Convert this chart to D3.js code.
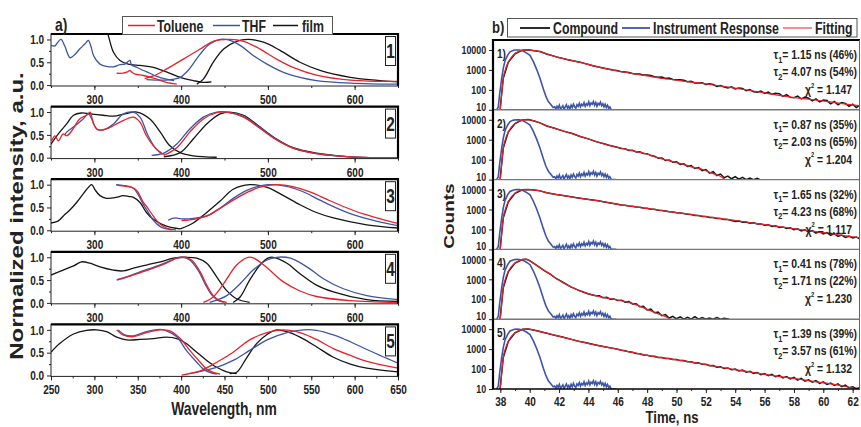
<!DOCTYPE html>
<html>
<head>
<meta charset="utf-8">
<script src="https://cdn.jsdelivr.net/npm/d3@7"></script>
<style>
  body { margin: 0; background: #fff; }
  svg { display: block; }
</style>
</head>
<body>
<svg id="chart" width="861" height="427"></svg>
<script>
// ---- panel a) normalized spectra, one entry per compound (rows 1..5), [nm, intensity]
const tolueneAbs = [
  [[325.7,0.26],[333,0.26],[338,0.29],[341,0.32],[344,0.27],[347,0.24],[356.5,0.21],[365,0.17],[372,0.13],[383,0.06],[395,0.02]],
  [[250.8,0.37],[254.6,0.48],[258.5,0.37],[264,0.52],[268,0.48],[274,0.59],[283,0.85],[291,0.93],[295,1.0],[299,0.74],[304.6,0.61],[314,0.63],[329.5,0.78],[345,0.89],[352.6,0.78],[360,0.48],[368,0.26],[376,0.11],[381,0.07]],
  [[325.7,0.99],[337,0.96],[343,0.94],[349,0.87],[356.5,0.61],[360,0.53],[368,0.31],[376,0.13],[383,0.05],[394,0.01]],
  [[325.7,0.5],[337,0.56],[352.6,0.66],[368,0.76],[383,0.87],[395,0.98],[404.5,1.0],[412,0.94],[422,0.68],[429.5,0.39],[437,0.16],[445,0.05],[452.6,0.01]],
  [[325.7,1.0],[333,0.89],[345,0.85],[360,0.94],[376,1.0],[387,0.98],[399,0.81],[410,0.55],[422,0.29],[429.5,0.14],[437,0.07],[445,0.03]]
];
const tolueneEm = [
  [[358,0.14],[368,0.2],[383,0.35],[402.6,0.57],[422,0.79],[437,0.96],[456,1.0],[472,0.96],[491,0.79],[510,0.57],[529,0.39],[556,0.22],[595,0.11],[650,0.08]],
  [[380,0.05],[395,0.22],[410,0.56],[425.6,0.85],[441,0.99],[452.6,1.0],[472,0.89],[491,0.64],[510,0.39],[529,0.21],[556,0.09],[595,0.02],[650,0.0]],
  [[400.6,0.21],[414,0.24],[429.5,0.31],[445,0.48],[460,0.66],[475,0.82],[490,0.94],[510,1.0],[530,0.95],[550,0.83],[570,0.66],[590,0.5],[610,0.36],[630,0.25],[650,0.15]],
  [[425.6,0.01],[437,0.13],[449,0.42],[464,0.83],[477,1.0],[484,0.98],[499,0.77],[518,0.46],[537,0.26],[556,0.14],[595,0.05],[650,0.01]],
  [[400.6,0.01],[422,0.1],[441,0.29],[460,0.51],[479,0.78],[499,0.94],[518,1.0],[537,0.94],[556,0.79],[575.5,0.59],[595,0.44],[614,0.31],[650,0.16]]
];
const thfAbs = [
  [[250,0.87],[254.6,0.86],[257,0.92],[261.5,1.0],[266,0.85],[272,0.6],[278,0.68],[283,0.79],[289,0.9],[293,0.98],[296,0.85],[299,0.65],[306.5,0.46],[314,0.41],[322,0.4],[329.5,0.45],[335,0.46],[339,0.52],[341,0.54],[343,0.44],[350,0.38],[356.5,0.32],[364,0.26],[372,0.19],[383,0.13],[392,0.1]],
  [[266,0.5],[268,0.56],[277.7,0.7],[287,0.85],[293,0.96],[297,0.85],[302.6,0.63],[310,0.61],[322,0.74],[333.4,0.96],[345,1.0],[352.6,0.89],[362,0.48],[370,0.22],[377.6,0.1]],
  [[325,1.0],[334,0.98],[340,0.96],[345,0.92],[350,0.8],[356,0.58],[362,0.4],[368,0.22],[376,0.08],[383,0.03],[390,0.01]],
  [[326,0.51],[337,0.57],[352.6,0.68],[368,0.78],[383,0.89],[395,0.98],[402,1.0],[410,0.94],[420,0.7],[428,0.4],[435,0.18],[442,0.06],[450,0.01]],
  [[327.6,1.0],[335,0.89],[345,0.87],[360,0.96],[376,1.01],[383,0.98],[395,0.85],[406,0.55],[418,0.29],[425.6,0.14],[433,0.07],[441,0.03]]
];
const thfEm = [
  [[360,0.12],[370,0.11],[383,0.11],[392,0.13],[399,0.17],[408,0.32],[415,0.5],[422,0.68],[433,0.9],[445,1.0],[452,1.0],[468,0.87],[483,0.65],[499,0.46],[518,0.28],[537,0.17],[556,0.1],[595,0.045],[650,0.02]],
  [[366,0.05],[380,0.1],[395,0.3],[410,0.63],[425.6,0.89],[441,1.0],[452.6,1.0],[472,0.9],[491,0.66],[510,0.4],[529,0.21],[556,0.09],[595,0.02],[650,0.0]],
  [[385,0.22],[390,0.26],[394,0.27],[400,0.25],[414,0.26],[430,0.32],[445,0.49],[460,0.7],[475,0.87],[490,0.97],[500,1.0],[520,0.97],[540,0.85],[560,0.66],[580,0.48],[600,0.33],[625,0.2],[650,0.1]],
  [[433,0.01],[452.6,0.16],[468,0.42],[483,0.72],[499,0.94],[510,1.0],[526,0.98],[545,0.79],[564,0.53],[587,0.31],[614,0.16],[650,0.07]],
  [[410,0.04],[441,0.18],[460,0.33],[479,0.55],[499,0.78],[522,0.94],[541,1.0],[556,0.99],[575.5,0.89],[595,0.74],[614,0.57],[650,0.27]]
];
const filmAbs = [
  [[314,1.2],[316,1.09],[322,0.72],[329.5,0.54],[339,0.46],[352.6,0.43],[368,0.39],[383,0.29],[399,0.17],[414,0.1],[425.6,0.06],[435,0.07]],
  [[250,0.3],[260,0.56],[268,0.74],[276,0.93],[285,0.98],[295,0.96],[310,0.93],[322,0.91],[335,0.96],[349,1.0],[364,0.85],[376,0.56],[387,0.26],[399,0.11],[414,0.04],[441,0.01]],
  [[250,0.16],[258,0.2],[265,0.33],[272,0.45],[280,0.62],[288,0.82],[294,0.96],[297,1.0],[301,0.88],[306.5,0.76],[314,0.7],[325,0.72],[333,0.76],[340,0.74],[345,0.72],[352.6,0.61],[360,0.39],[368,0.24],[383,0.09],[399,0.03]],
  [[250,0.61],[264,0.72],[276,0.81],[285,0.9],[295,0.87],[306.5,0.79],[322,0.72],[333,0.7],[345,0.76],[360,0.83],[376,0.9],[391,0.98],[406,1.0],[418,0.98],[429.5,0.87],[441,0.57],[452.6,0.27],[464,0.09],[479,0.01]],
  [[250,0.51],[260,0.7],[276,0.91],[291,0.99],[302.6,1.0],[314,0.96],[325.7,0.84],[337,0.78],[352.6,0.79],[368,0.81],[383,0.84],[395,0.81],[406,0.7],[418,0.51],[429.5,0.33],[441,0.18],[452.6,0.08],[464,0.04]]
];
const filmEm = [
  [[418,0.02],[425.6,0.13],[437,0.5],[449,0.79],[464,0.96],[477.5,1.0],[495,0.94],[514,0.76],[537,0.5],[560,0.32],[595,0.17],[650,0.07]],
  [[380,0.02],[399,0.11],[414,0.41],[429.5,0.74],[445,0.96],[456,1.0],[472,0.93],[491,0.67],[510,0.41],[529,0.22],[556,0.1],[595,0.02],[650,0.0]],
  [[399,0.03],[414,0.16],[429.5,0.39],[445,0.64],[460,0.9],[479,1.0],[499,0.94],[518,0.76],[537,0.56],[556,0.39],[575.5,0.27],[614,0.12],[650,0.05]],
  [[460,0.01],[468,0.13],[479,0.5],[491,0.83],[500,0.98],[506,1.0],[522,0.87],[537,0.64],[556,0.39],[575.5,0.24],[614,0.07],[650,0.03]],
  [[456,0.04],[464,0.07],[475,0.37],[487,0.7],[499,0.9],[510,1.0],[522,0.96],[537,0.84],[556,0.63],[575.5,0.4],[595,0.25],[614,0.16],[650,0.08]]
];
const rowNumbers = ['1', '2', '3', '4', '5'];
const wavelengthMajor = [300, 400, 500, 600];
const wavelengthMajorLast = [250, 300, 350, 400, 450, 500, 550, 600, 650];

// ---- panel b) fluorescence decays, [ns, counts]
const instrumentResponse = [[37.75,10],[37.86,14],[37.95,60],[38.09,370],[38.2,1200],[38.32,2900],[38.5,5500],[38.66,8100],[38.9,9600],[39.1,10000],[39.3,9900],[39.55,8900],[39.8,7000],[40.02,5400],[40.25,2600],[40.48,1040],[40.7,380],[40.93,110],[41.1,48],[41.27,26],[41.45,18],[41.6,13],
  [41.70,14],[41.78,11],[41.86,15],[41.94,12],[42.02,17],[42.10,11],[42.18,13],[42.26,16],[42.34,10.5],[42.42,14],[42.50,18],[42.58,12],[42.66,15],[42.74,11],[42.82,17],[42.90,13],[42.98,19],[43.06,14],[43.14,12],[43.22,18],[43.30,15],[43.38,21],[43.46,14],[43.54,19],[43.62,16],[43.70,23],[43.78,15],[43.86,20],[43.94,17],[44.02,25],[44.10,16],[44.18,22],[44.26,19],[44.34,26],[44.42,17],[44.50,23],[44.58,15],[44.66,21],[44.74,18],[44.82,24],[44.90,16],[44.98,20],[45.06,14],[45.14,19],[45.22,13],[45.30,17],[45.38,12],[45.46,14],[45.54,10.5],[45.6,10],[45.9,10]];
const compound = [
  [[37.98,10],[38.2,380],[38.54,2400],[39.0,6500],[39.5,9800],[39.9,10200],[40.3,9200],[40.7,8300],[41.2,6100],[41.84,4500],[42.6,3250],[43.43,2450],[44.3,1600],[45.24,1150],[45.7,980],
    [46.0,905],[46.25,800],[46.5,795],[46.75,745],[47.0,660],[47.25,618],[47.5,630],[47.75,548],[48.0,560],[48.25,520],[48.5,452],[48.75,430],[49.0,440],[49.25,372],[49.5,392],[49.75,330],[50.0,318],[50.25,325],[50.5,300],[50.75,255],[51.0,270],[51.25,222],[51.5,218],[51.75,228],[52.0,186],[52.25,200],[52.5,184],[52.75,150],[53.0,164],[53.25,138],[53.5,126],[53.75,142],[54.0,112],[54.25,124],[54.5,118],[54.75,90],[55.0,104],[55.25,80],[55.5,77],[55.75,88],[56.0,66],[56.25,78],[56.5,60],[56.75,68],[57.0,64],[57.25,47],[57.5,57],[57.75,42],[58.0,40],[58.25,49],[58.5,35],[58.75,43],[59.0,38],[59.25,28],[59.5,35],[59.75,25],[60.0,31],[60.25,29],[60.5,20],[60.75,26],[61.0,18],[61.25,23],[61.5,21],[61.75,15],[62.0,19],[62.25,13],[62.5,17]],
  [[37.98,10],[38.2,380],[38.54,2400],[39.0,6500],[39.5,9800],[39.9,10200],[40.3,8700],[40.7,7000],[41.16,4900],[41.7,3750],[42.29,2700],[42.9,2050],[43.43,1450],[44.0,1100],[44.56,780],[45.0,640],[45.4,530],[45.9,430],[46.25,365],
    [46.5,350],[46.75,290],[47.0,300],[47.25,245],[47.5,250],[47.75,205],[48.0,200],[48.25,160],[48.5,150],[48.75,118],[49.0,122],[49.25,92],[49.5,96],[49.75,74],[50.0,78],[50.25,58],[50.5,62],[50.75,46],[51.0,50],[51.25,36],[51.5,40],[51.75,28],[52.0,32],[52.25,21],[52.5,25],[52.75,16],[53.0,19],[53.25,12.5],[53.5,15],[53.75,11],[54.0,14],[54.25,10.5],[54.5,13],[54.75,10],[55.0,12],[55.25,10],[55.5,11.5],[55.7,10]],
  [[37.98,10],[38.2,380],[38.54,2400],[39.0,6500],[39.5,9800],[39.9,10200],[40.3,9400],[40.7,8600],[41.16,7000],[41.8,5700],[42.5,4700],[43.2,3900],[43.9,3300],[44.56,2800],[45.3,2250],
    [46.0,1850],[46.25,1700],[46.5,1640],[46.75,1500],[47.0,1450],[47.25,1330],[47.5,1290],[47.75,1180],[48.0,1150],[48.25,1040],[48.5,1020],[48.75,930],[49.0,900],[49.25,850],[49.5,770],[49.75,760],[50.0,690],[50.25,672],[50.5,630],[50.75,575],[51.0,565],[51.25,505],[51.5,500],[51.75,450],[52.0,445],[52.25,400],[52.5,398],[52.75,350],[53.0,352],[53.25,312],[53.5,315],[53.75,278],[54.0,250],[54.25,262],[54.5,230],[54.75,236],[55.0,205],[55.25,218],[55.5,188],[55.75,190],[56.0,162],[56.25,172],[56.5,140],[56.75,154],[57.0,126],[57.25,134],[57.5,112],[57.75,120],[58.0,98],[58.25,108],[58.5,84],[58.75,96],[59.0,76],[59.25,88],[59.5,66],[59.75,78],[60.0,60],[60.25,70],[60.5,51],[60.75,62],[61.0,45],[61.25,52],[61.5,40],[61.75,46],[62.0,37],[62.25,42],[62.5,33]],
  [[37.98,10],[38.2,380],[38.54,2400],[39.0,6500],[39.5,9800],[39.8,10100],[40.02,8400],[40.35,5800],[40.7,3900],[41.05,2600],[41.4,1800],[41.8,1100],[42.29,690],[42.8,420],[43.43,265],[44.0,185],[44.5,152],
    [44.75,150],[45.0,118],[45.25,124],[45.5,100],[45.75,104],[46.0,86],[46.25,90],[46.5,72],[46.75,76],[47.0,58],[47.25,60],[47.5,42],[47.75,44],[48.0,29],[48.25,32],[48.5,21],[48.75,23],[49.0,15],[49.25,17],[49.5,11.5],[49.75,14],[50.0,10.5],[50.25,13],[50.5,10],[50.75,12.5],[51.0,10],[51.25,13.5],[51.5,10],[51.75,12],[52.0,10],[52.25,11.5],[52.5,10],[52.75,12],[53.0,10],[53.25,11],[53.6,10]],
  [[37.98,10],[38.2,380],[38.54,2400],[39.0,6500],[39.5,9800],[39.9,10200],[40.5,8300],[41.16,6300],[41.7,4900],[42.3,3950],[42.9,3000],[43.43,2380],[44.0,1950],[44.5,1620],[45.1,1300],[45.7,1090],
    [46.0,990],[46.25,880],[46.5,835],[46.75,730],[47.0,690],[47.25,605],[47.5,585],[47.75,512],[48.0,498],[48.25,440],[48.5,436],[48.75,385],[49.0,378],[49.25,340],[49.5,338],[49.75,300],[50.0,300],[50.25,265],[50.5,266],[50.75,232],[51.0,234],[51.25,200],[51.5,205],[51.75,172],[52.0,176],[52.25,146],[52.5,150],[52.75,124],[53.0,131],[53.25,106],[53.5,114],[53.75,92],[54.0,99],[54.25,80],[54.5,88],[54.75,70],[55.0,77],[55.25,61],[55.5,67],[55.75,52],[56.0,60],[56.25,47],[56.5,54],[56.75,41],[57.0,48],[57.25,36],[57.5,42],[57.75,32],[58.0,38],[58.25,28],[58.5,34],[58.75,25],[59.0,29],[59.25,22],[59.5,26],[59.75,19],[60.0,23],[60.25,17],[60.5,20],[60.75,15],[61.0,18],[61.25,13],[61.5,15.5],[61.75,11.5],[62.0,13],[62.25,10.5],[62.5,11.5]]
];
const fitting = [
  [[38.0,10],[38.2,370],[38.4,1400],[38.54,2400],[38.75,4300],[39.0,6600],[39.3,8700],[39.6,9800],[39.9,10000],[40.3,9300],[40.7,8200],[41.2,6200],[41.84,4400],[42.6,3300],[43.43,2400],[44.3,1650],[45.24,1130],[46.0,880],[46.83,690],[48.0,500],[49.1,370],[50.2,290],[51.37,230],[52.5,175],[53.64,133],[54.8,98],[55.9,72],[57.0,53],[58.19,40],[59.3,32],[60.46,25],[61.4,20],[62.5,16]],
  [[38.0,10],[38.2,370],[38.4,1400],[38.54,2400],[38.75,4300],[39.0,6600],[39.3,8700],[39.6,9800],[39.9,10000],[40.3,8800],[40.7,6900],[41.16,5000],[41.7,3700],[42.29,2750],[42.9,2000],[43.43,1480],[44.0,1080],[44.56,800],[45.4,520],[46.38,355],[47.2,260],[47.97,193],[48.5,140],[49.1,105],[49.8,78],[50.46,58],[51.1,42],[51.83,31],[52.4,21],[52.96,15],[53.3,10]],
  [[38.0,10],[38.2,370],[38.4,1400],[38.54,2400],[38.75,4300],[39.0,6600],[39.3,8700],[39.6,9800],[39.9,10000],[40.3,9400],[40.7,8600],[41.16,7000],[41.8,5700],[42.5,4700],[43.2,3900],[43.9,3300],[44.56,2800],[45.3,2250],[46.0,1820],[46.83,1470],[47.6,1230],[48.4,1020],[49.1,870],[49.9,720],[50.7,600],[51.4,510],[52.2,420],[52.9,360],[53.6,310],[54.4,255],[55.1,215],[55.9,180],[56.6,152],[57.4,126],[58.2,105],[59.0,87],[59.8,72],[60.5,62],[61.3,51],[62.0,43],[62.5,38]],
  [[38.0,10],[38.2,370],[38.4,1400],[38.54,2400],[38.75,4300],[39.0,6600],[39.3,8700],[39.6,9900],[39.8,10000],[40.02,8300],[40.35,5800],[40.7,3800],[41.05,2600],[41.4,1780],[41.8,1100],[42.29,680],[42.8,420],[43.43,260],[44.0,190],[44.56,147],[45.1,120],[45.7,100],[46.3,82],[46.83,68],[47.4,48],[47.97,32],[48.5,22],[49.1,15],[49.4,12],[49.6,10]],
  [[38.0,10],[38.2,370],[38.4,1400],[38.54,2400],[38.75,4300],[39.0,6600],[39.3,8700],[39.6,9800],[39.9,10000],[40.5,8200],[41.16,6300],[42.3,3900],[43.43,2360],[44.5,1600],[45.7,1080],[46.8,730],[47.97,490],[49.1,360],[50.24,275],[51.4,200],[52.5,142],[53.6,104],[54.78,76],[55.9,56],[57.05,42],[58.2,32],[59.32,24],[60.5,18],[61.6,13],[62.3,10]]
];
const decayLabels = ['1)', '2)', '3)', '4)', '5)'];
const tau1Text = ['= 1.15 ns (46%)', '= 0.87 ns (35%)', '= 1.65 ns (32%)', '= 0.41 ns (78%)', '= 1.39 ns (39%)'];
const tau2Text = ['= 4.07 ns (54%)', '= 2.03 ns (65%)', '= 4.23 ns (68%)', '= 1.71 ns (22%)', '= 3.57 ns (61%)'];
const chiText = ['= 1.147', '= 1.204', '= 1.117', '= 1.230', '= 1.132'];
const countTicks = [10, 100, 1000, 10000];
const timeMajor = d3.range(38, 63, 2);
const timeMinor = d3.range(38, 63, 1);

// ---- styling
const SX = 0.77; // the source figure is horizontally squeezed
const FONT = "'Liberation Sans', Arial, Helvetica, sans-serif";
const RED = '#e5232b';
const BLUE = '#3c55a6';
const BLACK = '#151515';
const INK = '#222';

const svg = d3.select('#chart');
svg.append('rect').attr('width', 861).attr('height', 427).attr('fill', '#fff');
const defs = svg.append('defs');

function label(parent, x, y, str, size, anchor) {
  return parent.append('text')
    .attr('transform', `translate(${x},${y}) scale(${SX},1)`)
    .attr('font-family', FONT)
    .attr('font-weight', 'bold')
    .attr('font-size', size)
    .attr('text-anchor', anchor || 'start')
    .attr('fill', INK)
    .text(str);
}

function styleAxis(g, size) {
  g.select('.domain').remove();
  g.selectAll('.tick line').attr('stroke', INK).attr('stroke-width', 1);
  g.selectAll('.tick text')
    .attr('font-family', FONT)
    .attr('font-weight', 'bold')
    .attr('font-size', size)
    .attr('fill', INK)
    .attr('transform', `scale(${SX},1)`);
}

// =================== panel a ===================
const aLeft = 51, aRight = 398, aTop = 34, aStep = 72.6, aH = 52;
const xA = d3.scaleLinear().domain([250, 650]).range([aLeft, aRight]);

rowNumbers.forEach((num, i) => {
  const top = aTop + i * aStep;
  const yA = d3.scaleLinear().domain([-0.02, 1.12]).range([top + aH, top]);
  const g = svg.append('g');

  defs.append('clipPath').attr('id', 'clipA' + i)
    .append('rect').attr('x', aLeft).attr('y', top).attr('width', aRight - aLeft).attr('height', aH);

  const line = d3.line()
    .x(d => xA(d[0]))
    .y(d => yA(d[1]))
    .curve(d3.curveCatmullRom.alpha(0.5));

  const plot = g.append('g').attr('clip-path', `url(#clipA${i})`);
  [[filmAbs, BLACK], [filmEm, BLACK], [thfAbs, BLUE], [thfEm, BLUE], [tolueneAbs, RED], [tolueneEm, RED]]
    .forEach(([series, color]) => {
      plot.append('path')
        .datum(series[i])
        .attr('fill', 'none')
        .attr('stroke', color)
        .attr('stroke-width', 1.3)
        .attr('d', line);
    });

  // axes
  const last = i === rowNumbers.length - 1;
  const major = last ? wavelengthMajorLast : wavelengthMajor;
  const minor = last ? d3.range(250, 651, 25) : d3.range(250, 651, 50);
  g.append('g').attr('transform', `translate(0,${top + aH})`)
    .call(d3.axisBottom(xA).tickValues(minor).tickSize(2).tickFormat(''))
    .call(a => styleAxis(a, 13));
  g.append('g').attr('transform', `translate(0,${top + aH})`)
    .call(d3.axisBottom(xA).tickValues(major).tickSize(4).tickPadding(last ? 4 : 5).tickFormat(d3.format('d')))
    .call(a => styleAxis(a, 13));
  g.append('g').attr('transform', `translate(${aLeft},0)`)
    .call(d3.axisLeft(yA).tickValues([0.25, 0.75]).tickSize(2).tickFormat(''))
    .call(a => styleAxis(a, 13));
  g.append('g').attr('transform', `translate(${aLeft},0)`)
    .call(d3.axisLeft(yA).tickValues([0, 0.5, 1]).tickSize(4).tickPadding(5).tickFormat(d3.format('.1f')))
    .call(a => styleAxis(a, 13));

  // frame: thin left/bottom, heavier top/right
  g.append('rect').attr('x', aLeft).attr('y', top).attr('width', aRight - aLeft).attr('height', aH)
    .attr('fill', 'none').attr('stroke', INK).attr('stroke-width', 1);
  g.append('path')
    .attr('d', `M${aLeft},${top}H${aRight}V${top + aH}`)
    .attr('fill', 'none').attr('stroke', '#000').attr('stroke-width', 2.2);

  // compound number box
  g.append('rect').attr('x', 385.5).attr('y', top + 2.5).attr('width', 10).attr('height', 29)
    .attr('fill', '#fff').attr('stroke', INK).attr('stroke-width', 1);
  label(g, 390.5, top + 24, num, 20, 'middle');
});

// legend a
const legA = svg.append('g');
legA.append('rect').attr('x', 122.5).attr('y', 16.5).attr('width', 210).attr('height', 18)
  .attr('fill', '#fff').attr('stroke', '#555').attr('stroke-width', 1);
[[128, 155, RED, 'Toluene', 157], [213, 240, BLUE, 'THF', 242], [273, 298, BLACK, 'film', 302]]
  .forEach(([x1, x2, c, t, tx]) => {
    legA.append('line').attr('x1', x1).attr('x2', x2).attr('y1', 25.5).attr('y2', 25.5)
      .attr('stroke', c).attr('stroke-width', 1.5);
    label(legA, tx, 31.5, t, 16, 'start');
  });
label(svg, 55, 31, 'a)', 18, 'start');

label(svg, 224, 415, 'Wavelength, nm', 18, 'middle');
svg.append('text')
  .attr('transform', `translate(22.5,216) scale(${SX},1) rotate(-90)`)
  .attr('font-family', FONT).attr('font-weight', 'bold').attr('font-size', 24)
  .attr('text-anchor', 'middle').attr('fill', INK)
  .text('Normalized intensity, a.u.');

// =================== panel b ===================
const bLeft = 493, bRight = 860, bTop = 40, bH = 69.8;
const xB = d3.scaleLinear().domain([37.5, 62.5]).range([bLeft, bRight]);

decayLabels.forEach((lab, i) => {
  const top = bTop + i * bH;
  const yB = d3.scaleLog().domain([10, Math.pow(10, 4.5)]).range([top + bH, top]);
  const g = svg.append('g');

  defs.append('clipPath').attr('id', 'clipB' + i)
    .append('rect').attr('x', bLeft).attr('y', top).attr('width', bRight - bLeft).attr('height', bH);

  const lin = d3.line().x(d => xB(d[0])).y(d => yB(d[1]));
  const smooth = d3.line().x(d => xB(d[0])).y(d => yB(d[1])).curve(d3.curveMonotoneX);

  const plot = g.append('g').attr('clip-path', `url(#clipB${i})`);
  plot.append('path').datum(compound[i])
    .attr('fill', 'none').attr('stroke', BLACK).attr('stroke-width', 1.5)
    .attr('d', lin);
  plot.append('path').datum(instrumentResponse)
    .attr('fill', 'none').attr('stroke', BLUE).attr('stroke-width', 1.6)
    .attr('d', lin);
  plot.append('path').datum(fitting[i])
    .attr('fill', 'none').attr('stroke', RED).attr('stroke-width', 1.2)
    .attr('d', smooth);

  const last = i === decayLabels.length - 1;
  g.append('g').attr('transform', `translate(${bLeft},0)`)
    .call(d3.axisLeft(yB).tickValues(countTicks).tickSize(4).tickPadding(5).tickFormat(d3.format('d')))
    .call(a => styleAxis(a, 11.5))
    // lift the bottom "10" a little so it clears the "10000" of the next row
    .call(a => a.selectAll('.tick text').filter(d => d === 10 && !last).attr('dy', '0.05em'));

  // row separator
  g.append('line').attr('x1', bLeft).attr('x2', bRight).attr('y1', top + bH).attr('y2', top + bH)
    .attr('stroke', last ? '#000' : '#777').attr('stroke-width', last ? 1.6 : 1.4);

  label(g, 497, top + 18, lab, 13, 'start');

  // lifetimes
  const t1 = g.append('text')
    .attr('transform', `translate(857,${top + 19}) scale(${SX},1)`)
    .attr('font-family', FONT).attr('font-weight', 'bold').attr('font-size', 13.5)
    .attr('text-anchor', 'end').attr('fill', INK);
  t1.append('tspan').text('\u03c4');
  t1.append('tspan').attr('font-size', 9.5).attr('dy', 3.5).text('1');
  t1.append('tspan').attr('dy', -3.5).text(tau1Text[i]);

  const t2 = g.append('text')
    .attr('transform', `translate(857,${top + 36}) scale(${SX},1)`)
    .attr('font-family', FONT).attr('font-weight', 'bold').attr('font-size', 13.5)
    .attr('text-anchor', 'end').attr('fill', INK);
  t2.append('tspan').text('\u03c4');
  t2.append('tspan').attr('font-size', 9.5).attr('dy', 3.5).text('2');
  t2.append('tspan').attr('dy', -3.5).text(tau2Text[i]);

  const t3 = g.append('text')
    .attr('transform', `translate(852,${top + 54}) scale(${SX},1)`)
    .attr('font-family', FONT).attr('font-weight', 'bold').attr('font-size', 13.5)
    .attr('text-anchor', 'end').attr('fill', INK);
  t3.append('tspan').text('\u03c7');
  t3.append('tspan').attr('font-size', 7.5).attr('dy', -6.5).text('2');
  t3.append('tspan').attr('dy', 6.5).text(' ' + chiText[i]);
});

// time axis
const bBottom = bTop + decayLabels.length * bH;
svg.append('g').attr('transform', `translate(0,${bBottom})`)
  .call(d3.axisBottom(xB).tickValues(timeMinor).tickSize(2).tickFormat(''))
  .call(a => styleAxis(a, 13));
svg.append('g').attr('transform', `translate(0,${bBottom})`)
  .call(d3.axisBottom(xB).tickValues(timeMajor).tickSize(4).tickPadding(4).tickFormat(d3.format('d')))
  .call(a => styleAxis(a, 13));

// frame of panel b
svg.append('path').attr('d', `M${bLeft},${bBottom}V${bTop}H${bRight}`)
  .attr('fill', 'none').attr('stroke', '#000').attr('stroke-width', 2.2);
svg.append('line').attr('x1', bRight - 0.5).attr('x2', bRight - 0.5).attr('y1', bTop).attr('y2', bBottom)
  .attr('stroke', '#666').attr('stroke-width', 1);

// legend b
const legB = svg.append('g');
legB.append('rect').attr('x', 507.5).attr('y', 18.5).attr('width', 349.5).attr('height', 18.5)
  .attr('fill', '#fff').attr('stroke', '#555').attr('stroke-width', 1);
[[520, 550, BLACK, 1.8, 'Compound', 553], [622, 650, BLUE, 1.8, 'Instrument Response', 653], [783, 812, RED, 1, 'Fitting', 815]]
  .forEach(([x1, x2, c, w, t, tx]) => {
    legB.append('line').attr('x1', x1).attr('x2', x2).attr('y1', 28).attr('y2', 28)
      .attr('stroke', c).attr('stroke-width', w);
    label(legB, tx, 33.5, t, 16, 'start');
  });
label(svg, 492, 33, 'b)', 17, 'start');

label(svg, 672, 422.5, 'Time, ns', 17, 'middle');
svg.append('text')
  .attr('transform', `translate(454,216) scale(${SX},1) rotate(-90)`)
  .attr('font-family', FONT).attr('font-weight', 'bold').attr('font-size', 19)
  .attr('text-anchor', 'middle').attr('fill', INK)
  .text('Counts');
</script>
</body>
</html>
